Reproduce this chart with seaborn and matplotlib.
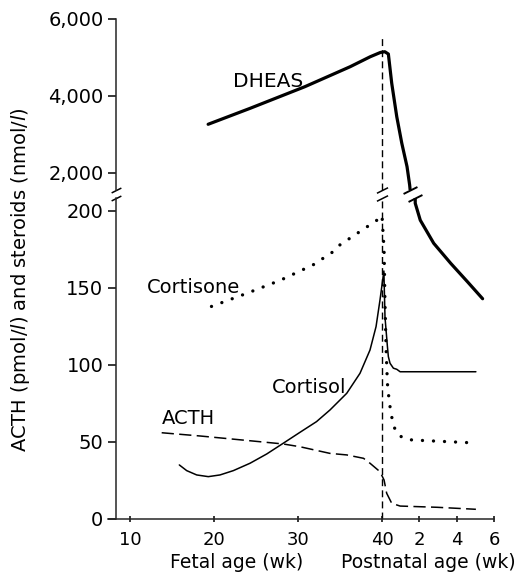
import matplotlib.pyplot as plt
import numpy as np
import seaborn as sns

# ages: fetal weeks up to 40 (birth), then 40 + postnatal weeks
dheas_age = [19.3, 24.3, 30.8, 36.2, 38.6, 39.8, 40.15, 40.34, 40.52, 40.79,
             41.06, 41.34, 41.48, 41.78, 42.05, 42.77, 43.68, 44.58, 45.39]
dheas = [3265, 3680, 4240, 4760, 5020, 5130, 5150, 5090, 4330, 3462,
         2771, 2164, 1688, 205, 194, 179, 166, 154, 143]

cortisone_age = [19.7, 23.9, 27.9, 31.8, 34.2, 35.0, 39.4, 40.0, 40.11, 40.16,
                 40.22, 40.29, 40.34, 40.43, 40.52, 40.61, 40.79, 41.15, 41.61, 44.76]
cortisone = [138, 146.5, 155, 165, 173.6, 178, 194, 197, 175, 140,
             110, 88, 81.6, 72.9, 66.4, 61, 55.6, 52.4, 51.3, 49.5]

cortisol_age = [15.87, 16.75, 17.94, 19.32, 20.71, 22.30, 24.29, 26.27, 28.25,
                30.24, 32.2, 33.81, 35.8, 37.38, 38.57, 39.29, 39.76, 40.1,
                40.16, 40.29, 40.34, 40.43, 40.61, 40.79, 40.97, 45.03]
cortisol = [35.1, 31.4, 28.6, 27.5, 28.6, 31.4, 36.2, 42.2, 49.2,
            56.3, 63.2, 70.8, 81.6, 94.6, 109.7, 124.9, 142.2, 161,
            131, 111.9, 105.4, 101.1, 97.9, 97.2, 95.6, 95.6]

acth_age = [13.77, 18.33, 24.29, 28.25, 30.24, 33.8, 35.8, 37.8, 38.57, 39.76,
            40.11, 40.25, 40.52, 40.97, 42.96, 45.03]
acth = [56.0, 53.9, 50.8, 48.7, 46.9, 42.6, 41.6, 39.4, 36.2, 30.7,
        25.3, 16.7, 10.2, 8.4, 7.6, 6.3]

birth = 40
birth_line_top = 5500
fetal_ticks = [10, 20, 30, 40]
postnatal_ticks = [2, 4, 6]
top_ticks = [2000, 4000, 6000]
top_labels = ["2,000", "4,000", "6,000"]
bottom_ticks = [0, 50, 100, 150, 200]

stretch = 2.222  # postnatal weeks are drawn wider than fetal weeks


def pos(age):
    age = np.asarray(age, dtype=float)
    return np.where(age <= birth, age, birth + (age - birth) * stretch)


sns.set_style("ticks")
plt.rcParams["font.family"] = ["DejaVu Sans"]
plt.rcParams["axes.linewidth"] = 1.1
plt.rcParams["text.color"] = "black"

fig = plt.figure(figsize=(5.27, 5.81), dpi=100)
ax_top = fig.add_axes([108 / 527, 1 - 190 / 581, 386 / 527, 171 / 581])
ax_bot = fig.add_axes([108 / 527, 1 - 519 / 581, 386 / 527, 321 / 581])

xlim = (7.38, 53.33)
spine_x = 8.33
top_ylim = (1558, 6000)
bot_ylim = (0, 208.4)

# DHEAS on both panels
for ax in (ax_top, ax_bot):
    sns.lineplot(x=pos(dheas_age), y=dheas, ax=ax, color="black", lw=2.3,
                 sort=False, estimator=None, solid_capstyle="round",
                 solid_joinstyle="round")

sns.lineplot(x=pos(cortisone_age), y=cortisone, ax=ax_bot, color="black", lw=2.4,
             sort=False, estimator=None, linestyle=(0, (0.01, 3.3)),
             dash_capstyle="round")
sns.lineplot(x=pos(cortisol_age), y=cortisol, ax=ax_bot, color="black", lw=1.1,
             sort=False, estimator=None, solid_joinstyle="round")
sns.lineplot(x=pos(acth_age), y=acth, ax=ax_bot, color="black", lw=1.1,
             sort=False, estimator=None, linestyle=(0, (8, 3.5)))

# birth line
ax_bot.axvline(birth, color="black", lw=1.0, linestyle=(0, (5, 3)))
ax_top.vlines(birth, top_ylim[0], birth_line_top, color="black", lw=1.0,
              linestyles=[(0, (5, 3))])

# axes setup
for ax in (ax_top, ax_bot):
    ax.set_xlim(*xlim)
    ax.spines["right"].set_visible(False)
    ax.spines["top"].set_visible(False)
    ax.spines["left"].set_position(("data", spine_x))
    ax.tick_params(axis="y", direction="out", length=6, width=1.1, pad=3,
                   labelsize=14, colors="black")
    ax.set_xlabel("")
    ax.set_ylabel("")

ax_top.set_ylim(*top_ylim)
ax_top.spines["bottom"].set_visible(False)
ax_top.tick_params(axis="x", bottom=False, labelbottom=False)
ax_top.set_yticks(top_ticks)
ax_top.set_yticklabels(top_labels)

ax_bot.set_ylim(*bot_ylim)
ax_bot.spines["left"].set_bounds(0, bot_ylim[1])
ax_bot.set_yticks(bottom_ticks)
xt = list(pos(fetal_ticks)) + list(pos([birth + p for p in postnatal_ticks]))
ax_bot.set_xticks(xt)
ax_bot.set_xticklabels([str(t) for t in fetal_ticks] + [str(t) for t in postnatal_ticks])
ax_bot.tick_params(axis="x", direction="inout", length=5, width=1.1, pad=6,
                   labelsize=13, colors="black")

# break marks
brk = [(-1, -0.5), (1, 0.5)]
dheas_pos = pos(dheas_age)
d = np.array(dheas, dtype=float)
x_top_cross = np.interp(top_ylim[0], d[12:14][::-1], dheas_pos[12:14][::-1])
x_bot_cross = np.interp(bot_ylim[1], d[12:14][::-1], dheas_pos[12:14][::-1])
for xb, ms in [(spine_x, 7), (birth, 8)]:
    ax_top.plot(xb, top_ylim[0], marker=brk, ms=ms, mew=1.1, color="black", clip_on=False)
    ax_bot.plot(xb, bot_ylim[1], marker=brk, ms=ms, mew=1.1, color="black", clip_on=False)
ax_top.plot(x_top_cross, top_ylim[0], marker=brk, ms=10, mew=1.4, color="black", clip_on=False)
ax_bot.plot(x_bot_cross, bot_ylim[1], marker=brk, ms=10, mew=1.4, color="black", clip_on=False)

# curve labels
ax_top.text(22.3, 4234, "DHEAS", fontsize=14.5, va="baseline", ha="left")
ax_bot.text(12.0, 146.8, "Cortisone", fontsize=14, va="baseline", ha="left")
ax_bot.text(26.9, 81.8, "Cortisol", fontsize=14, va="baseline", ha="left")
ax_bot.text(13.8, 61.7, "ACTH", fontsize=14, va="baseline", ha="left")

fig.text(21 / 527, 1 - 280 / 581,
         r"ACTH (pmol/$\mathit{l}$) and steroids (nmol/$\mathit{l}$)",
         rotation=90, ha="center", va="center", fontsize=14)
fig.text(236.5 / 527, 1 - 562 / 581, "Fetal age (wk)", ha="center", va="center",
         fontsize=13.5)
fig.text(428.5 / 527, 1 - 562 / 581, "Postnatal age (wk)", ha="center", va="center",
         fontsize=13.5)

fig.savefig("out.png", dpi=100)
